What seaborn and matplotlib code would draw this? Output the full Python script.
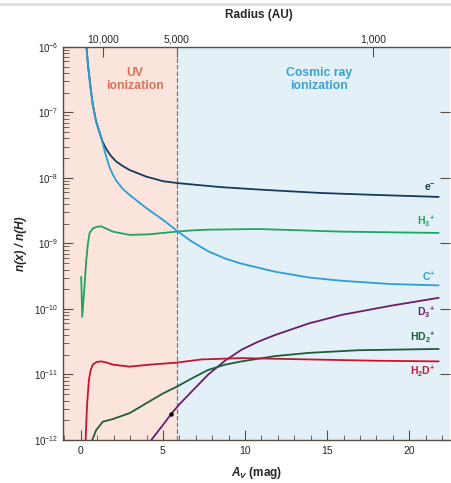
import matplotlib.pyplot as plt
import seaborn as sns
import numpy as np
import pandas as pd

# abundancias (log10 n(x)/n(H)) frente a Av (mag)
av_e = [0.33, 0.43, 0.57, 0.73, 0.93, 1.18, 1.3, 1.44, 1.65, 1.85, 2.15, 2.56, 2.97, 3.98, 5.0, 5.92,
        8.5, 11, 14.6, 18, 21.8]
log_e = [-5.97, -6.27, -6.58, -6.89, -7.14, -7.34, -7.43, -7.51, -7.6, -7.67, -7.75, -7.82, -7.88, -7.98,
         -8.05, -8.08, -8.14, -8.18, -8.23, -8.26, -8.29]

av_c = [0.33, 0.43, 0.57, 0.73, 0.93, 1.18, 1.3, 1.44, 1.55, 1.75, 1.95, 2.15, 2.56, 2.97, 3.98, 5.0, 5.92,
        6.75, 7.76, 8.78, 9.8, 11.8, 13.9, 15.9, 18.9, 21.8]
log_c = [-5.97, -6.27, -6.58, -6.89, -7.14, -7.34, -7.44, -7.58, -7.68, -7.84, -7.95, -8.04, -8.17, -8.26,
         -8.46, -8.64, -8.82, -8.97, -9.12, -9.23, -9.31, -9.43, -9.52, -9.57, -9.62, -9.64]

av_h3 = [0.02, 0.08, 0.22, 0.33, 0.43, 0.53, 0.73, 1.0, 1.24, 1.6, 1.95, 2.97, 4.19, 5.0, 5.81,
         6.83, 7.76, 10.8, 15.9, 21.8]
log_h3 = [-9.51, -10.12, -9.66, -9.25, -9.0, -8.84, -8.77, -8.745, -8.74, -8.78, -8.82, -8.87, -8.86, -8.84,
          -8.82, -8.8, -8.79, -8.78, -8.82, -8.84]

av_h2d = [0.29, 0.37, 0.49, 0.6, 0.73, 0.95, 1.24, 1.6, 1.95, 2.97, 4.19, 5.81, 7.36, 9.8, 13.9, 17.9, 21.8]
log_h2d = [-12.0, -11.49, -11.08, -10.93, -10.85, -10.81, -10.8, -10.82, -10.85, -10.88, -10.85, -10.82,
           -10.77, -10.75, -10.77, -10.79, -10.8]

av_hd2 = [0.69, 0.93, 1.34, 1.95, 2.97, 3.98, 5.0, 5.81, 6.83, 7.76, 8.78, 9.8, 11.8, 13.9, 16.9, 21.8]
log_hd2 = [-12.0, -11.85, -11.72, -11.68, -11.59, -11.44, -11.29, -11.19, -11.05, -10.93, -10.85, -10.8,
           -10.72, -10.67, -10.63, -10.61]

av_d3 = [4.29, 5.0, 5.51, 6.02, 6.83, 7.76, 8.78, 9.8, 10.8, 11.8, 13.9, 15.9, 18.9, 21.8]
log_d3 = [-12.0, -11.77, -11.6, -11.45, -11.24, -11.0, -10.79, -10.62, -10.5, -10.4, -10.22, -10.09,
          -9.95, -9.83]

# punto negro sobre la curva de D3+
punto_av = [5.5]
punto_log = [-11.61]

especies = ['e$^{-}$', 'H$_3$$^{+}$', 'C$^{+}$', 'D$_3$$^{+}$', 'HD$_2$$^{+}$', 'H$_2$D$^{+}$']
colores = ['#16395c', '#1fa463', '#2b9fd4', '#6b1d6b', '#1f5c3a', '#c8152f']
y_etiqueta = [-8.15, -8.66, -9.5, -10.05, -10.43, -10.96]

radio_av = [1.34, 5.85, 17.8]
radio_txt = ['10,000', '5,000', '1,000']
av_corte = 5.85

datos = [(av_e, log_e), (av_h3, log_h3), (av_c, log_c),
         (av_d3, log_d3), (av_hd2, log_hd2), (av_h2d, log_h2d)]

filas = []
for nombre, (a, l) in zip(especies, datos):
    for x, y in zip(a, l):
        filas.append({'Av': x, 'n': 10 ** y, 'especie': nombre})
df = pd.DataFrame(filas)

sns.set_style("ticks")
plt.rcParams['font.family'] = ['Liberation Sans', 'DejaVu Sans']
plt.rcParams['mathtext.fontset'] = 'custom'
plt.rcParams['mathtext.rm'] = 'Liberation Sans:bold'
plt.rcParams['mathtext.it'] = 'Liberation Sans:italic:bold'
plt.rcParams['mathtext.bf'] = 'Liberation Sans:bold'

fig = plt.figure(figsize=(4.52, 4.83), dpi=100)
ax = fig.add_axes([0.139, 0.089, 0.857, 0.814])
ax.axvspan(-1.1, av_corte, color='#fbe4dc', zorder=0, lw=0)
ax.axvspan(av_corte, 22.5, color='#e3f0f8', zorder=0, lw=0)
ax.axvline(av_corte, color='#777777', ls='--', lw=0.9, zorder=1)

sns.lineplot(data=df, x='Av', y='n', hue='especie', palette=dict(zip(especies, colores)),
             hue_order=especies, sort=False, estimator=None, lw=1.3, legend=False, ax=ax)
for linea in ax.get_lines():
    linea.set_solid_joinstyle('round')
ax.plot(punto_av, [10 ** v for v in punto_log], 'o', color='black', ms=2.2, zorder=5)

ax.set_yscale('log')
ax.set_xlim(-1.1, 22.5)
ax.set_ylim(1e-12, 1e-6)

for nombre, c, y in zip(especies, colores, y_etiqueta):
    ax.text(21.6, 10 ** y, nombre, color=c, fontsize=7.5, fontweight='bold', ha='right', va='center')

ax.text(3.3, 10 ** -6.5, 'UV\nionization', color='#de6f5c', fontsize=8.8, fontweight='bold',
        ha='center', va='center', linespacing=1.05)
ax.text(14.5, 10 ** -6.5, 'Cosmic ray\nionization', color='#3aa2d2', fontsize=8.8, fontweight='bold',
        ha='center', va='center', linespacing=1.05)

eje_col = '#5a4d47'
for lado in ['left', 'bottom', 'top']:
    ax.spines[lado].set_color(eje_col)
    ax.spines[lado].set_linewidth(1.0)
ax.spines['right'].set_visible(False)

ax.set_xticks([0, 5, 10, 15, 20])
ax.set_xticks(np.arange(-1, 23, 1), minor=True)
ax.yaxis.set_minor_locator(plt.LogLocator(base=10, subs=np.arange(2, 10), numticks=20))
ax.yaxis.set_minor_formatter(plt.NullFormatter())
ax.tick_params(axis='x', which='major', direction='in', length=7, color=eje_col, labelsize=7.5, pad=4)
ax.tick_params(axis='x', which='minor', direction='in', length=3.5, color=eje_col)
ax.tick_params(axis='y', which='major', direction='in', length=7, color=eje_col, labelsize=7,
               right=True, pad=3)
ax.tick_params(axis='y', which='minor', direction='in', length=4, color=eje_col, right=False, left=True)
ax.tick_params(axis='x', top=False, which='both')

ax.set_xlabel('$A_V$ (mag)', fontsize=8.5, fontweight='bold', labelpad=7)
ax.set_ylabel('n(x) / n(H)', fontsize=8.5, fontweight='bold', fontstyle='italic', labelpad=5)

top = ax.secondary_xaxis('top')
top.set_xticks(radio_av)
top.set_xticklabels(radio_txt)
top.tick_params(direction='in', length=7, color=eje_col, labelsize=7.5, pad=2)
top.spines['top'].set_visible(False)
fig.text(0.572, 0.968, 'Radius (AU)', fontsize=8.5, fontweight='bold', ha='center', va='center')

fig.patches.append(plt.Rectangle((0, 0.988), 1, 0.006, transform=fig.transFigure,
                                 color='#dde3e2', lw=0))
fig.savefig('out.png', dpi=100)
